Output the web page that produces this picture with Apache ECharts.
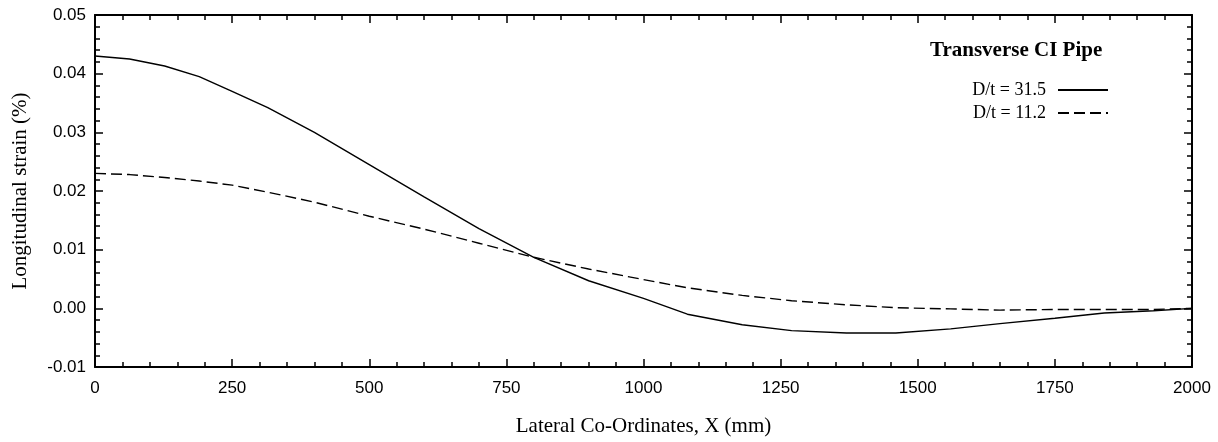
<!DOCTYPE html>
<html>
<head>
<meta charset="utf-8">
<script src="https://cdn.jsdelivr.net/npm/echarts@6/dist/echarts.min.js"></script>
<style>
html,body{margin:0;padding:0;background:#fff;}
#chart{width:1218px;height:442px;}
</style>
</head>
<body>
<div id="chart"></div>
<script>
// Data
const lateralX = [0, 63, 127, 190, 250, 315, 400, 500, 600, 700, 800, 900, 1000, 1080, 1180, 1270, 1370, 1460, 1560, 1650, 1750, 1840, 1930, 2000];
const strainDt315 = [0.0430, 0.0425, 0.0413, 0.0395, 0.0370, 0.0342, 0.0300, 0.0245, 0.0190, 0.0136, 0.0087, 0.0047, 0.0017, -0.0010, -0.0028, -0.0038, -0.0042, -0.0042, -0.0035, -0.0026, -0.0017, -0.0008, -0.0004, 0.0000];
const strainDt112 = [0.0230, 0.0228, 0.0223, 0.0217, 0.0210, 0.0198, 0.0181, 0.0157, 0.0135, 0.0111, 0.0087, 0.0067, 0.0049, 0.0035, 0.0022, 0.0013, 0.0006, 0.0001, -0.0001, -0.0003, -0.0002, -0.0002, -0.0002, 0.0000];
const seriesNames = ['D/t = 31.5', 'D/t = 11.2'];
const chartTitle = 'Transverse CI Pipe';
const xAxisName = 'Lateral Co-Ordinates, X (mm)';
const yAxisName = 'Longitudinal strain (%)';

const pairs = (xs, ys) => xs.map((x, i) => [x, ys[i]]);

const serif = 'Liberation Serif, Times New Roman, serif';
const sans = 'Liberation Sans, Arial, Helvetica, sans-serif';
const axisLine = {show: true, onZero: false, lineStyle: {color: '#000', width: 2}};
const tick = {show: true, inside: true, length: 8, lineStyle: {color: '#000', width: 1.5}};
const minor = {show: true, splitNumber: 5, length: 5, lineStyle: {color: '#000', width: 1.5}};

const chart = echarts.init(document.getElementById('chart'), null, {renderer: 'canvas'});
chart.setOption({
  animation: false,
  backgroundColor: '#fff',
  title: {
    text: chartTitle, left: 925, top: 35,
    textStyle: {fontFamily: serif, fontWeight: 'bold', fontSize: 21, color: '#000'}
  },
  legend: {
    orient: 'vertical', right: 104, top: 76, align: 'right',
    itemWidth: 50, itemHeight: 18, itemGap: 5,
    itemStyle: {opacity: 0},
    textStyle: {fontFamily: serif, fontSize: 18, color: '#000', lineHeight: 18, padding: [0, 7, 0, 0]},
    data: seriesNames
  },
  grid: {left: 95, right: 26, top: 15, bottom: 73, containLabel: false},
  xAxis: [{
    type: 'value', min: 0, max: 2000, interval: 250, position: 'bottom',
    name: xAxisName, nameLocation: 'middle', nameGap: 49,
    nameTextStyle: {fontFamily: serif, fontSize: 21, color: '#000'},
    axisLine: axisLine, axisTick: tick, minorTick: minor,
    axisLabel: {fontFamily: sans, fontSize: 17, color: '#000', margin: 13, formatter: v => String(v)},
    splitLine: {show: false}
  }, {
    type: 'value', min: 0, max: 2000, interval: 250, position: 'top',
    axisLine: axisLine, axisTick: tick, minorTick: minor,
    axisLabel: {show: false}, splitLine: {show: false}
  }],
  yAxis: [{
    type: 'value', min: -0.01, max: 0.05, interval: 0.01, position: 'left',
    name: yAxisName, nameLocation: 'middle', nameGap: 64,
    nameTextStyle: {fontFamily: serif, fontSize: 21, color: '#000'},
    axisLine: axisLine, axisTick: tick, minorTick: minor,
    axisLabel: {fontFamily: sans, fontSize: 17, color: '#000', margin: 9, formatter: v => v.toFixed(2)},
    splitLine: {show: false}
  }, {
    type: 'value', min: -0.01, max: 0.05, interval: 0.01, position: 'right',
    axisLine: axisLine, axisTick: tick, minorTick: minor,
    axisLabel: {show: false}, splitLine: {show: false}
  }],
  series: [{
    name: seriesNames[0], type: 'line', xAxisIndex: 0, yAxisIndex: 0,
    data: pairs(lateralX, strainDt315), symbol: 'none', smooth: false,
    lineStyle: {color: '#000', width: 1.4, type: 'solid'},
    itemStyle: {color: '#000'}
  }, {
    name: seriesNames[1], type: 'line', xAxisIndex: 0, yAxisIndex: 0,
    data: pairs(lateralX, strainDt112), symbol: 'none', smooth: false,
    lineStyle: {color: '#000', width: 1.4, type: [11, 5]},
    itemStyle: {color: '#000'}
  }]
});
</script>
</body>
</html>
